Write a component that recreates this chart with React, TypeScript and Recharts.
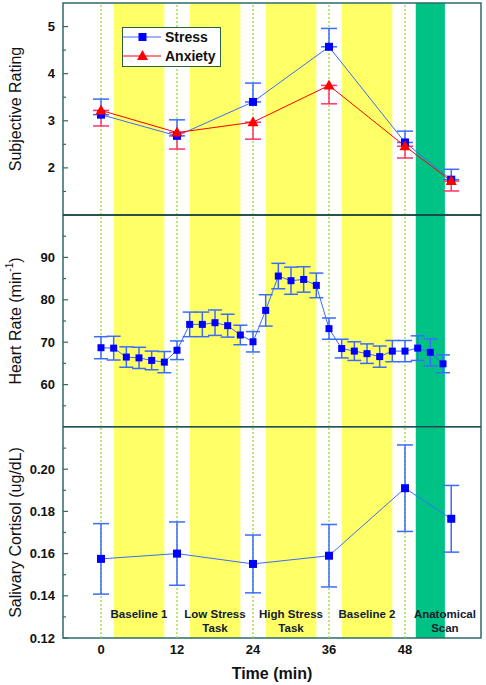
import React from "react";
import {
  ComposedChart,
  Line,
  XAxis,
  YAxis,
  ErrorBar,
  ReferenceArea,
  ReferenceLine,
  ReferenceDot,
  Legend,
  Label,
} from "recharts";

// time axis (min)
const timeDomain: [number, number] = [-6, 60];
const timeTicks = [0, 12, 24, 36, 48];
const sampleTimes = [0, 12, 24, 36, 48];

// task phases
const phaseNames = [["Baseline 1"], ["Low Stress", "Task"], ["High Stress", "Task"], ["Baseline 2"], ["Anatomical", "Scan"]];
const phaseStart = [2, 14, 26, 38, 49.7];
const phaseEnd = [10, 22, 34, 46, 54.3];
const phaseLabelAt = [6, 18, 30, 42, 54.3];

// subjective ratings
const seriesNames = ["Stress", "Anxiety"];
const ratingTimes = [0, 12, 24, 36, 48, 55.3];
const stressMean = [3.13, 2.68, 3.4, 4.57, 2.54, 1.75];
const stressErr = [0.33, 0.34, 0.4, 0.39, 0.24, 0.22];
const anxietyMean = [3.22, 2.75, 2.97, 3.75, 2.46, 1.72];
const anxietyErr = [0.33, 0.35, 0.36, 0.39, 0.25, 0.21];
const ratingTicks = [1.5, 2, 2.5, 3, 3.5, 4, 4.5, 5];
const ratingLabels = [2, 3, 4, 5];

// heart rate
const hrTimes = [0, 2, 4, 6, 8, 10, 12, 14, 16, 18, 20, 22, 24, 26, 28, 30, 32, 34, 36, 38, 40, 42, 44, 46, 48, 50, 52, 54];
const hrMean = [68.7, 68.6, 66.5, 66.3, 65.7, 65.3, 68.1, 74.2, 74.2, 74.6, 73.9, 71.7, 70.1, 77.5, 85.6, 84.5, 84.8, 83.4, 73.2, 68.5, 67.9, 67.3, 66.6, 67.9, 67.9, 68.6, 67.6, 64.9];
const hrErr = [2.6, 2.8, 2.4, 2.5, 2.2, 2.5, 2.2, 2.9, 2.9, 3.0, 2.7, 2.3, 2.4, 3.7, 3.0, 3.2, 3.0, 2.9, 2.5, 2.2, 2.2, 2.3, 2.5, 2.5, 2.5, 2.9, 3.2, 2.1];
const hrTicks = [55, 60, 65, 70, 75, 80, 85, 90, 95];
const hrLabels = [60, 70, 80, 90];

// cortisol
const cortTimes = [0, 12, 24, 36, 48, 55.3];
const cortMean = [0.1575, 0.16, 0.1551, 0.159, 0.191, 0.1765];
const cortErr = [0.0167, 0.015, 0.0137, 0.0148, 0.0205, 0.0158];
const cortTicks = [0.12, 0.13, 0.14, 0.15, 0.16, 0.17, 0.18, 0.19, 0.2, 0.21];
const cortLabels = [0.12, 0.14, 0.16, 0.18, 0.2];

const FONT = "'Liberation Sans', Arial, sans-serif";
const FRAME = "#2e6a6e";
const SEP = "#173d3d";
const YELLOW = "#ffff66";
const GREEN = "#00c285";
const DOTTED = "#9ad935";
const BLUE_LINE = "#3a6cff";
const BLUE = "#0000ff";
const RED = "#ff0000";
const PINK = "#ff3366";
const W = 486;
const MARGIN = { top: 0, right: 5, bottom: 0, left: 0 };

const ratingData = ratingTimes.map((t, i) => ({
  t,
  stress: stressMean[i],
  stressErr: [0, stressErr[i]],
  anxiety: anxietyMean[i],
  anxietyErr: [anxietyErr[i], 0],
}));
const hrData = hrTimes.map((t, i) => ({ t, hr: hrMean[i], hrErr: hrErr[i] }));
const cortData = cortTimes.map((t, i) => ({ t, cort: cortMean[i], cortErr: cortErr[i] }));

function makeTick(labels: number[], fmt: (v: number) => string) {
  return (props: any) => {
    const { x, y, payload } = props;
    const v = payload.value;
    const major = labels.some((m) => Math.abs(m - v) < 1e-9);
    const ax = x + 8;
    return (
      <g>
        <line x1={ax} x2={ax + (major ? 5 : 3)} y1={y} y2={y} stroke={FRAME} strokeWidth={1.2} />
        {major && (
          <text x={x} y={y} dy={4.5} textAnchor="end" fontFamily={FONT} fontSize={13} fontWeight="bold" fill="#111">
            {fmt(v)}
          </text>
        )}
      </g>
    );
  };
}

function yTitle(children: React.ReactNode) {
  return (props: any) => {
    const vb = props.viewBox;
    const cy = vb.y + vb.height / 2;
    return (
      <text
        x={15}
        y={cy}
        transform={`rotate(-90, 15, ${cy})`}
        textAnchor="middle"
        dominantBaseline="central"
        fontFamily={FONT}
        fontSize={16}
        fill="#111"
      >
        {children}
      </text>
    );
  };
}

const squareDot = (size: number) => (p: any) => (
  <rect key={p.index} x={p.cx - size / 2} y={p.cy - size / 2} width={size} height={size} fill={BLUE} />
);
const triangleDot = (p: any) => (
  <path key={p.index} d={`M${p.cx},${p.cy - 6} L${p.cx + 5.5},${p.cy + 4} L${p.cx - 5.5},${p.cy + 4} Z`} fill={RED} />
);

function backdrop(yMin: number, yMax: number) {
  return [
    ...phaseStart.map((x1, i) => (
      <ReferenceArea
        key={`band${i}`}
        x1={x1}
        x2={phaseEnd[i]}
        y1={yMin}
        y2={yMax}
        fill={i === 4 ? GREEN : YELLOW}
        fillOpacity={1}
        stroke="none"
        ifOverflow="hidden"
      />
    )),
    ...sampleTimes.map((t) => (
      <ReferenceLine key={`v${t}`} x={t} stroke={DOTTED} strokeWidth={1.3} strokeDasharray="2 2" />
    )),
    <ReferenceArea
      key="frame"
      x1={timeDomain[0]}
      x2={timeDomain[1]}
      y1={yMin}
      y2={yMax}
      fill="none"
      stroke={FRAME}
      strokeWidth={1.5}
      ifOverflow="visible"
    />,
  ];
}

const renderLegend = () => (
  <div
    style={{
      width: 99,
      height: 40,
      boxSizing: "border-box",
      border: "1.5px solid #2d5e3e",
      background: "#fff",
      fontFamily: FONT,
      fontWeight: "bold",
      fontSize: 14,
      color: "#111",
    }}
  >
    {seriesNames.map((name, i) => (
      <div key={name} style={{ display: "flex", alignItems: "center", height: 18.5 }}>
        <svg width={42} height={14} style={{ display: "block" }}>
          <line x1={0} x2={38} y1={7} y2={7} stroke={i === 0 ? BLUE_LINE : RED} strokeWidth={1} />
          {i === 0 ? <rect x={15.5} y={3} width={8} height={8} fill={BLUE} /> : <path d="M19.5,1 L25,11 L14,11 Z" fill={RED} />}
        </svg>
        <span style={{ lineHeight: "14px" }}>{name}</span>
      </div>
    ))}
  </div>
);

export default function App() {
  return (
    <div style={{ position: "absolute", left: 0, top: 0, width: W, height: 685, background: "#fff" }}>
      <div style={{ position: "absolute", left: 0, top: 0 }}>
        <ComposedChart width={W} height={215} data={ratingData} margin={{ ...MARGIN, top: 3 }}>
          <XAxis dataKey="t" type="number" domain={timeDomain} allowDataOverflow hide />
          <YAxis
            type="number"
            domain={[1, 5.5]}
            allowDataOverflow
            ticks={ratingTicks}
            interval={0}
            width={63}
            axisLine={false}
            tickLine={false}
            tickSize={0}
            tickMargin={8}
            tick={makeTick(ratingLabels, (v) => String(v))}
          >
            <Label content={yTitle("Subjective Rating")} />
          </YAxis>
          {backdrop(1, 5.5)}
          <ReferenceLine y={1} stroke={SEP} strokeWidth={1.5} ifOverflow="visible" />
          <Legend
            layout="vertical"
            align="center"
            verticalAlign="middle"
            content={renderLegend}
            wrapperStyle={{ position: "absolute", left: 122, top: 27, width: "auto" }}
          />
          <Line
            dataKey="stress"
            type="linear"
            stroke={BLUE_LINE}
            strokeWidth={1}
            dot={squareDot(8)}
            activeDot={false}
            isAnimationActive={false}
          >
            <ErrorBar dataKey="stressErr" direction="y" width={8} stroke={BLUE_LINE} strokeWidth={1.5} />
          </Line>
          <Line
            dataKey="anxiety"
            type="linear"
            stroke={RED}
            strokeWidth={1}
            dot={triangleDot}
            activeDot={false}
            isAnimationActive={false}
          >
            <ErrorBar dataKey="anxietyErr" direction="y" width={8} stroke={PINK} strokeWidth={1.5} />
          </Line>
        </ComposedChart>
      </div>

      <div style={{ position: "absolute", left: 0, top: 215 }}>
        <ComposedChart width={W} height={212} data={hrData} margin={MARGIN}>
          <XAxis dataKey="t" type="number" domain={timeDomain} allowDataOverflow hide />
          <YAxis
            type="number"
            domain={[50, 100]}
            allowDataOverflow
            ticks={hrTicks}
            interval={0}
            width={63}
            axisLine={false}
            tickLine={false}
            tickSize={0}
            tickMargin={8}
            tick={makeTick(hrLabels, (v) => String(v))}
          >
            <Label
              content={yTitle(
                <>
                  Heart Rate (min
                  <tspan dy={-6} fontSize={10}>
                    -1
                  </tspan>
                  <tspan dy={6}>)</tspan>
                </>
              )}
            />
          </YAxis>
          {backdrop(50, 100)}
          <ReferenceLine y={100} stroke={SEP} strokeWidth={1.5} ifOverflow="visible" />
          <ReferenceLine y={50} stroke={SEP} strokeWidth={1.5} ifOverflow="visible" />
          <Line
            dataKey="hr"
            type="linear"
            stroke={BLUE_LINE}
            strokeWidth={1}
            dot={squareDot(7)}
            activeDot={false}
            isAnimationActive={false}
          >
            <ErrorBar dataKey="hrErr" direction="y" width={7} stroke={BLUE_LINE} strokeWidth={1.5} />
          </Line>
        </ComposedChart>
      </div>

      <div style={{ position: "absolute", left: 0, top: 427 }}>
        <ComposedChart width={W} height={258} data={cortData} margin={MARGIN}>
          <XAxis
            dataKey="t"
            type="number"
            domain={timeDomain}
            allowDataOverflow
            ticks={timeTicks}
            interval={0}
            height={47}
            axisLine={false}
            tickLine={false}
            tickSize={0}
            tickMargin={7}
            tick={{ fontFamily: FONT, fontSize: 13, fontWeight: "bold", fill: "#111" }}
          >
            <Label
              content={(p: any) => (
                <text
                  x={p.viewBox.x + p.viewBox.width / 2}
                  y={p.viewBox.y + 41}
                  textAnchor="middle"
                  fontFamily={FONT}
                  fontSize={16}
                  fontWeight="bold"
                  fill="#111"
                >
                  Time (min)
                </text>
              )}
            />
          </XAxis>
          <YAxis
            type="number"
            domain={[0.12, 0.22]}
            allowDataOverflow
            ticks={cortTicks}
            interval={0}
            width={63}
            axisLine={false}
            tickLine={false}
            tickSize={0}
            tickMargin={8}
            tick={makeTick(cortLabels, (v) => v.toFixed(2))}
          >
            <Label content={yTitle("Salivary Cortisol (ug/dL)")} />
          </YAxis>
          {backdrop(0.12, 0.22)}
          {phaseNames.map((lines, i) => (
            <ReferenceDot
              key={`lbl${i}`}
              x={phaseLabelAt[i]}
              y={0.12}
              r={0}
              ifOverflow="visible"
              shape={(p: any) => (
                <text
                  x={p.cx}
                  y={p.cy - 20}
                  textAnchor="middle"
                  fontFamily={FONT}
                  fontSize={11.5}
                  fontWeight="bold"
                  fill="#102030"
                >
                  {lines.map((s, j) => (
                    <tspan key={j} x={p.cx} dy={j === 0 ? 0 : 13.5}>
                      {s}
                    </tspan>
                  ))}
                </text>
              )}
            />
          ))}
          <Line
            dataKey="cort"
            type="linear"
            stroke={BLUE_LINE}
            strokeWidth={1}
            dot={squareDot(8)}
            activeDot={false}
            isAnimationActive={false}
          >
            <ErrorBar dataKey="cortErr" direction="y" width={8} stroke={BLUE_LINE} strokeWidth={1.5} />
          </Line>
        </ComposedChart>
      </div>
    </div>
  );
}
